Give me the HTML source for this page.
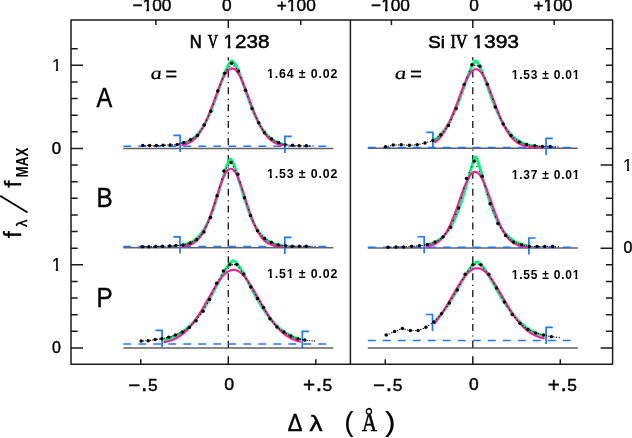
<!DOCTYPE html>
<html><head><meta charset="utf-8"><title>profiles</title>
<style>html,body{margin:0;padding:0;background:#fff;width:632px;height:438px;overflow:hidden}svg{display:block}</style>
</head><body><div style="position:absolute;left:0;top:0;width:632px;height:438px;will-change:transform">
<svg width="632" height="438" viewBox="0 0 632 438">
<rect width="632" height="438" fill="#fff"/>
<line x1="123.3" y1="148.5" x2="333.3" y2="148.5" stroke="#606060" stroke-width="1.5"/>
<line x1="123.3" y1="247.7" x2="333.3" y2="247.7" stroke="#606060" stroke-width="1.5"/>
<line x1="123.3" y1="347.9" x2="333.3" y2="347.9" stroke="#606060" stroke-width="1.5"/>
<line x1="367.8" y1="148.2" x2="577.8" y2="148.2" stroke="#606060" stroke-width="1.5"/>
<line x1="367.8" y1="247.9" x2="577.8" y2="247.9" stroke="#606060" stroke-width="1.5"/>
<line x1="367.8" y1="347.9" x2="577.8" y2="347.9" stroke="#606060" stroke-width="1.5"/>
<line x1="228.3" y1="57.3" x2="228.3" y2="348" stroke="#111" stroke-width="1.3" stroke-dasharray="7 4.5 1.2 4.2" stroke-dashoffset="3.8"/>
<line x1="472.8" y1="57.3" x2="472.8" y2="348" stroke="#111" stroke-width="1.3" stroke-dasharray="7 4.5 1.2 4.2" stroke-dashoffset="3.8"/>
<line x1="123.3" y1="146.3" x2="333.3" y2="146.3" stroke="#1c78ff" stroke-width="1.5" stroke-dasharray="7.9 7.1" stroke-linecap="butt"/>
<path d="M173.4 135.35 L180.1 135.35 L180.1 151.95" fill="none" stroke="#1c78ff" stroke-width="1.7"/>
<path d="M291.6 136.4 L284.9 136.4 L284.9 153" fill="none" stroke="#1c78ff" stroke-width="1.7"/>
<path d="M181.6 144.12 L182.24 143.94 L182.88 143.76 L183.52 143.56 L184.16 143.35 L184.8 143.13 L185.44 142.88 L186.08 142.63 L186.72 142.36 L187.36 142.07 L188 141.76 L188.64 141.43 L189.28 141.08 L189.92 140.71 L190.56 140.32 L191.2 139.9 L191.84 139.46 L192.48 139 L193.12 138.51 L193.76 137.99 L194.41 137.44 L195.05 136.87 L195.69 136.26 L196.33 135.62 L196.97 134.95 L197.61 134.25 L198.25 133.51 L198.89 132.74 L199.53 131.93 L200.17 131.08 L200.81 130.19 L201.45 129.27 L202.09 128.3 L202.73 127.3 L203.37 126.25 L204.01 125.17 L204.65 124.04 L205.29 122.87 L205.93 121.65 L206.57 120.39 L207.21 119.1 L207.85 117.76 L208.49 116.37 L209.13 114.95 L209.77 113.48 L210.41 111.98 L211.05 110.44 L211.69 108.86 L212.33 107.24 L212.97 105.59 L213.61 103.91 L214.25 102.19 L214.89 100.45 L215.53 98.69 L216.17 96.9 L216.81 95.09 L217.45 93.27 L218.09 91.44 L218.73 89.6 L219.37 87.76 L220.02 85.92 L220.66 84.08 L221.3 82.26 L221.94 80.46 L222.58 78.68 L223.22 76.93 L223.86 75.22 L224.5 73.56 L225.14 71.94 L225.78 70.39 L226.42 68.91 L227.06 67.51 L227.7 66.2 L228.34 64.99 L228.98 63.9 L229.62 62.93 L230.26 62.11 L230.9 61.46 L231.54 61.03 L232.18 60.94 L232.82 61.29 L233.46 61.87 L234.1 62.63 L234.74 63.55 L235.38 64.6 L236.02 65.77 L236.66 67.05 L237.3 68.42 L237.94 69.88 L238.58 71.4 L239.22 73 L239.86 74.64 L240.5 76.34 L241.14 78.07 L241.78 79.84 L242.42 81.64 L243.06 83.45 L243.7 85.28 L244.34 87.12 L244.98 88.97 L245.63 90.81 L246.27 92.64 L246.91 94.47 L247.55 96.28 L248.19 98.07 L248.83 99.85 L249.47 101.6 L250.11 103.32 L250.75 105.01 L251.39 106.68 L252.03 108.3 L252.67 109.9 L253.31 111.45 L253.95 112.97 L254.59 114.45 L255.23 115.89 L255.87 117.28 L256.51 118.64 L257.15 119.95 L257.79 121.22 L258.43 122.45 L259.07 123.64 L259.71 124.78 L260.35 125.88 L260.99 126.94 L261.63 127.96 L262.27 128.94 L262.91 129.88 L263.55 130.78 L264.19 131.64 L264.83 132.46 L265.47 133.25 L266.11 134 L266.75 134.72 L267.39 135.4 L268.03 136.05 L268.67 136.66 L269.31 137.25 L269.95 137.81 L270.59 138.33 L271.24 138.83 L271.88 139.31 L272.52 139.76 L273.16 140.18 L273.8 140.58 L274.44 140.96 L275.08 141.31 L275.72 141.65 L276.36 141.96 L277 142.26 L277.64 142.54 L278.28 142.8 L278.92 143.04 L279.56 143.27 L280.2 143.49 L280.84 143.69 L281.48 143.88 L282.12 144.06 L282.76 144.22 L283.4 144.38" fill="none" stroke="#00f878" stroke-width="2.9" stroke-linejoin="round"/>
<path d="M181.6 145.2 L182.24 145.08 L182.88 144.94 L183.52 144.79 L184.16 144.63 L184.8 144.44 L185.44 144.25 L186.08 144.03 L186.72 143.8 L187.36 143.55 L188 143.27 L188.64 142.97 L189.28 142.65 L189.92 142.3 L190.56 141.92 L191.2 141.52 L191.84 141.09 L192.48 140.62 L193.12 140.12 L193.76 139.58 L194.41 139.01 L195.05 138.41 L195.69 137.76 L196.33 137.07 L196.97 136.34 L197.61 135.57 L198.25 134.75 L198.89 133.89 L199.53 132.99 L200.17 132.04 L200.81 131.04 L201.45 129.99 L202.09 128.89 L202.73 127.75 L203.37 126.56 L204.01 125.32 L204.65 124.03 L205.29 122.7 L205.93 121.32 L206.57 119.9 L207.21 118.44 L207.85 116.93 L208.49 115.39 L209.13 113.81 L209.77 112.2 L210.41 110.56 L211.05 108.89 L211.69 107.19 L212.33 105.48 L212.97 103.74 L213.61 102 L214.25 100.25 L214.89 98.49 L215.53 96.74 L216.17 94.99 L216.81 93.25 L217.45 91.53 L218.09 89.84 L218.73 88.17 L219.37 86.53 L220.02 84.93 L220.66 83.38 L221.3 81.88 L221.94 80.43 L222.58 79.04 L223.22 77.72 L223.86 76.46 L224.5 75.29 L225.14 74.19 L225.78 73.17 L226.42 72.25 L227.06 71.41 L227.7 70.67 L228.34 70.03 L228.98 69.49 L229.62 69.05 L230.26 68.72 L230.9 68.49 L231.54 68.37 L232.18 68.36 L232.82 68.45 L233.46 68.65 L234.1 68.96 L234.74 69.37 L235.38 69.89 L236.02 70.5 L236.66 71.22 L237.3 72.03 L237.94 72.93 L238.58 73.93 L239.22 75 L239.86 76.16 L240.5 77.4 L241.14 78.7 L241.78 80.07 L242.42 81.51 L243.06 83 L243.7 84.54 L244.34 86.13 L244.98 87.75 L245.63 89.42 L246.27 91.11 L246.91 92.82 L247.55 94.55 L248.19 96.3 L248.83 98.05 L249.47 99.81 L250.11 101.56 L250.75 103.31 L251.39 105.04 L252.03 106.76 L252.67 108.46 L253.31 110.14 L253.95 111.79 L254.59 113.41 L255.23 115 L255.87 116.55 L256.51 118.07 L257.15 119.54 L257.79 120.97 L258.43 122.36 L259.07 123.7 L259.71 125 L260.35 126.25 L260.99 127.45 L261.63 128.61 L262.27 129.72 L262.91 130.78 L263.55 131.79 L264.19 132.75 L264.83 133.67 L265.47 134.54 L266.11 135.37 L266.75 136.15 L267.39 136.89 L268.03 137.59 L268.67 138.25 L269.31 138.87 L269.95 139.44 L270.59 139.99 L271.24 140.5 L271.88 140.97 L272.52 141.41 L273.16 141.83 L273.8 142.21 L274.44 142.56 L275.08 142.89 L275.72 143.2 L276.36 143.48 L277 143.74 L277.64 143.98 L278.28 144.2 L278.92 144.4 L279.56 144.58 L280.2 144.75 L280.84 144.9 L281.48 145.04 L282.12 145.17 L282.76 145.29 L283.4 145.39" fill="none" stroke="#ff1a9c" stroke-width="2.1" stroke-linejoin="round"/>
<line x1="123.3" y1="246.6" x2="333.3" y2="246.6" stroke="#1c78ff" stroke-width="1.5" stroke-dasharray="7.9 7.1" stroke-linecap="butt"/>
<path d="M173.3 236.97 L180 236.97 L180 253.57" fill="none" stroke="#1c78ff" stroke-width="1.7"/>
<path d="M291.5 237.43 L284.8 237.43 L284.8 254.03" fill="none" stroke="#1c78ff" stroke-width="1.7"/>
<path d="M181.5 245.21 L182.14 245.09 L182.78 244.96 L183.42 244.82 L184.06 244.68 L184.7 244.51 L185.34 244.34 L185.98 244.16 L186.62 243.96 L187.26 243.74 L187.9 243.51 L188.54 243.27 L189.18 243.01 L189.82 242.73 L190.46 242.43 L191.1 242.11 L191.74 241.76 L192.38 241.4 L193.02 241.01 L193.66 240.6 L194.31 240.15 L194.95 239.69 L195.59 239.19 L196.23 238.66 L196.87 238.1 L197.51 237.51 L198.15 236.88 L198.79 236.22 L199.43 235.52 L200.07 234.78 L200.71 234 L201.35 233.17 L201.99 232.31 L202.63 231.4 L203.27 230.44 L203.91 229.44 L204.55 228.39 L205.19 227.28 L205.83 226.13 L206.47 224.93 L207.11 223.67 L207.75 222.36 L208.39 221 L209.03 219.58 L209.67 218.11 L210.31 216.58 L210.95 215 L211.59 213.37 L212.23 211.68 L212.87 209.94 L213.51 208.15 L214.15 206.3 L214.79 204.41 L215.43 202.48 L216.07 200.5 L216.71 198.48 L217.35 196.43 L217.99 194.34 L218.63 192.23 L219.27 190.09 L219.92 187.94 L220.56 185.77 L221.2 183.6 L221.84 181.44 L222.48 179.29 L223.12 177.16 L223.76 175.06 L224.4 173 L225.04 171 L225.68 169.07 L226.32 167.22 L226.96 165.48 L227.6 163.86 L228.24 162.39 L228.88 161.09 L229.52 160.02 L230.16 159.25 L230.8 159.09 L231.44 159.74 L232.08 160.73 L232.72 161.96 L233.36 163.38 L234 164.95 L234.64 166.66 L235.28 168.48 L235.92 170.38 L236.56 172.36 L237.2 174.4 L237.84 176.49 L238.48 178.61 L239.12 180.76 L239.76 182.92 L240.4 185.09 L241.04 187.26 L241.68 189.42 L242.32 191.56 L242.96 193.68 L243.6 195.78 L244.24 197.84 L244.88 199.87 L245.53 201.86 L246.17 203.81 L246.81 205.71 L247.45 207.57 L248.09 209.38 L248.73 211.14 L249.37 212.84 L250.01 214.49 L250.65 216.09 L251.29 217.63 L251.93 219.12 L252.57 220.56 L253.21 221.94 L253.85 223.26 L254.49 224.54 L255.13 225.76 L255.77 226.93 L256.41 228.04 L257.05 229.11 L257.69 230.13 L258.33 231.1 L258.97 232.03 L259.61 232.91 L260.25 233.74 L260.89 234.53 L261.53 235.29 L262.17 236 L262.81 236.68 L263.45 237.32 L264.09 237.92 L264.73 238.49 L265.37 239.03 L266.01 239.53 L266.65 240.01 L267.29 240.46 L267.93 240.88 L268.57 241.28 L269.21 241.65 L269.85 242 L270.49 242.33 L271.14 242.63 L271.78 242.92 L272.42 243.19 L273.06 243.44 L273.7 243.67 L274.34 243.89 L274.98 244.1 L275.62 244.28 L276.26 244.46 L276.9 244.63 L277.54 244.78 L278.18 244.92 L278.82 245.05 L279.46 245.17 L280.1 245.29 L280.74 245.39 L281.38 245.49 L282.02 245.58 L282.66 245.66 L283.3 245.74" fill="none" stroke="#00f878" stroke-width="2.9" stroke-linejoin="round"/>
<path d="M181.5 246.26 L182.14 246.21 L182.78 246.15 L183.42 246.09 L184.06 246.01 L184.7 245.93 L185.34 245.83 L185.98 245.73 L186.62 245.61 L187.26 245.47 L187.9 245.33 L188.54 245.16 L189.18 244.97 L189.82 244.77 L190.46 244.54 L191.1 244.29 L191.74 244.02 L192.38 243.71 L193.02 243.38 L193.66 243.02 L194.31 242.62 L194.95 242.18 L195.59 241.71 L196.23 241.19 L196.87 240.63 L197.51 240.03 L198.15 239.38 L198.79 238.68 L199.43 237.92 L200.07 237.11 L200.71 236.25 L201.35 235.33 L201.99 234.35 L202.63 233.3 L203.27 232.2 L203.91 231.03 L204.55 229.8 L205.19 228.5 L205.83 227.15 L206.47 225.72 L207.11 224.24 L207.75 222.69 L208.39 221.08 L209.03 219.42 L209.67 217.7 L210.31 215.92 L210.95 214.1 L211.59 212.24 L212.23 210.33 L212.87 208.39 L213.51 206.42 L214.15 204.42 L214.79 202.41 L215.43 200.38 L216.07 198.36 L216.71 196.33 L217.35 194.32 L217.99 192.33 L218.63 190.37 L219.27 188.44 L219.92 186.55 L220.56 184.72 L221.2 182.96 L221.84 181.26 L222.48 179.64 L223.12 178.1 L223.76 176.66 L224.4 175.32 L225.04 174.09 L225.68 172.98 L226.32 171.98 L226.96 171.11 L227.6 170.37 L228.24 169.77 L228.88 169.3 L229.52 168.98 L230.16 168.79 L230.8 168.75 L231.44 168.86 L232.08 169.1 L232.72 169.49 L233.36 170.02 L234 170.68 L234.64 171.48 L235.28 172.4 L235.92 173.45 L236.56 174.62 L237.2 175.89 L237.84 177.28 L238.48 178.76 L239.12 180.33 L239.76 181.99 L240.4 183.72 L241.04 185.51 L241.68 187.37 L242.32 189.27 L242.96 191.22 L243.6 193.19 L244.24 195.2 L244.88 197.21 L245.53 199.24 L246.17 201.27 L246.81 203.29 L247.45 205.29 L248.09 207.28 L248.73 209.24 L249.37 211.16 L250.01 213.05 L250.65 214.9 L251.29 216.7 L251.93 218.45 L252.57 220.15 L253.21 221.79 L253.85 223.37 L254.49 224.89 L255.13 226.35 L255.77 227.75 L256.41 229.08 L257.05 230.34 L257.69 231.55 L258.33 232.69 L258.97 233.77 L259.61 234.78 L260.25 235.74 L260.89 236.63 L261.53 237.47 L262.17 238.26 L262.81 238.99 L263.45 239.67 L264.09 240.3 L264.73 240.88 L265.37 241.42 L266.01 241.92 L266.65 242.38 L267.29 242.79 L267.93 243.18 L268.57 243.53 L269.21 243.85 L269.85 244.14 L270.49 244.41 L271.14 244.65 L271.78 244.86 L272.42 245.06 L273.06 245.23 L273.7 245.39 L274.34 245.53 L274.98 245.66 L275.62 245.77 L276.26 245.87 L276.9 245.96 L277.54 246.04 L278.18 246.12 L278.82 246.18 L279.46 246.23 L280.1 246.28 L280.74 246.32 L281.38 246.36 L282.02 246.39 L282.66 246.42 L283.3 246.45" fill="none" stroke="#ff1a9c" stroke-width="2.1" stroke-linejoin="round"/>
<line x1="123.3" y1="344" x2="333.3" y2="344" stroke="#1c78ff" stroke-width="1.5" stroke-dasharray="7.9 7.1" stroke-linecap="butt"/>
<path d="M155.4 330.34 L162.1 330.34 L162.1 346.94" fill="none" stroke="#1c78ff" stroke-width="1.7"/>
<path d="M309 331.29 L302.3 331.29 L302.3 347.89" fill="none" stroke="#1c78ff" stroke-width="1.7"/>
<path d="M163.6 340.25 L164.46 340.03 L165.33 339.8 L166.19 339.55 L167.05 339.29 L167.91 339.02 L168.78 338.73 L169.64 338.43 L170.5 338.11 L171.37 337.78 L172.23 337.44 L173.09 337.07 L173.95 336.69 L174.82 336.29 L175.68 335.87 L176.54 335.44 L177.41 334.98 L178.27 334.5 L179.13 334 L179.99 333.48 L180.86 332.94 L181.72 332.37 L182.58 331.78 L183.45 331.17 L184.31 330.53 L185.17 329.86 L186.04 329.17 L186.9 328.45 L187.76 327.71 L188.62 326.93 L189.49 326.13 L190.35 325.3 L191.21 324.43 L192.08 323.54 L192.94 322.62 L193.8 321.67 L194.66 320.68 L195.53 319.67 L196.39 318.62 L197.25 317.54 L198.12 316.43 L198.98 315.28 L199.84 314.11 L200.7 312.9 L201.57 311.66 L202.43 310.39 L203.29 309.09 L204.16 307.75 L205.02 306.39 L205.88 305 L206.74 303.58 L207.61 302.14 L208.47 300.66 L209.33 299.17 L210.2 297.65 L211.06 296.11 L211.92 294.55 L212.78 292.97 L213.65 291.38 L214.51 289.77 L215.37 288.15 L216.24 286.53 L217.1 284.9 L217.96 283.28 L218.83 281.65 L219.69 280.03 L220.55 278.42 L221.41 276.83 L222.28 275.26 L223.14 273.72 L224 272.21 L224.87 270.74 L225.73 269.32 L226.59 267.95 L227.45 266.64 L228.32 265.41 L229.18 264.27 L230.04 263.23 L230.91 262.3 L231.77 261.53 L232.63 260.95 L233.49 260.73 L234.36 261.14 L235.22 261.8 L236.08 262.64 L236.95 263.61 L237.81 264.69 L238.67 265.87 L239.53 267.13 L240.4 268.46 L241.26 269.85 L242.12 271.3 L242.99 272.78 L243.85 274.31 L244.71 275.86 L245.57 277.44 L246.44 279.04 L247.3 280.65 L248.16 282.27 L249.03 283.9 L249.89 285.52 L250.75 287.15 L251.62 288.77 L252.48 290.38 L253.34 291.99 L254.2 293.57 L255.07 295.14 L255.93 296.7 L256.79 298.23 L257.66 299.74 L258.52 301.23 L259.38 302.69 L260.24 304.13 L261.11 305.53 L261.97 306.91 L262.83 308.26 L263.7 309.59 L264.56 310.88 L265.42 312.13 L266.28 313.36 L267.15 314.56 L268.01 315.72 L268.87 316.85 L269.74 317.95 L270.6 319.02 L271.46 320.06 L272.32 321.06 L273.19 322.03 L274.05 322.98 L274.91 323.89 L275.78 324.77 L276.64 325.62 L277.5 326.44 L278.36 327.23 L279.23 327.99 L280.09 328.73 L280.95 329.44 L281.82 330.12 L282.68 330.77 L283.54 331.4 L284.41 332.01 L285.27 332.59 L286.13 333.15 L286.99 333.68 L287.86 334.19 L288.72 334.69 L289.58 335.16 L290.45 335.6 L291.31 336.03 L292.17 336.45 L293.03 336.84 L293.9 337.21 L294.76 337.57 L295.62 337.91 L296.49 338.24 L297.35 338.55 L298.21 338.84 L299.07 339.12 L299.94 339.39 L300.8 339.65" fill="none" stroke="#00f878" stroke-width="2.9" stroke-linejoin="round"/>
<path d="M163.6 342.32 L164.46 342.15 L165.33 341.97 L166.19 341.78 L167.05 341.57 L167.91 341.35 L168.78 341.11 L169.64 340.85 L170.5 340.57 L171.37 340.27 L172.23 339.95 L173.09 339.6 L173.95 339.24 L174.82 338.84 L175.68 338.43 L176.54 337.98 L177.41 337.51 L178.27 337.01 L179.13 336.47 L179.99 335.91 L180.86 335.32 L181.72 334.69 L182.58 334.03 L183.45 333.33 L184.31 332.6 L185.17 331.83 L186.04 331.02 L186.9 330.18 L187.76 329.3 L188.62 328.38 L189.49 327.42 L190.35 326.43 L191.21 325.39 L192.08 324.32 L192.94 323.21 L193.8 322.07 L194.66 320.89 L195.53 319.67 L196.39 318.41 L197.25 317.13 L198.12 315.81 L198.98 314.46 L199.84 313.09 L200.7 311.68 L201.57 310.25 L202.43 308.8 L203.29 307.33 L204.16 305.84 L205.02 304.34 L205.88 302.83 L206.74 301.3 L207.61 299.77 L208.47 298.25 L209.33 296.72 L210.2 295.2 L211.06 293.68 L211.92 292.18 L212.78 290.7 L213.65 289.24 L214.51 287.8 L215.37 286.39 L216.24 285.02 L217.1 283.68 L217.96 282.38 L218.83 281.13 L219.69 279.93 L220.55 278.78 L221.41 277.68 L222.28 276.65 L223.14 275.67 L224 274.77 L224.87 273.93 L225.73 273.16 L226.59 272.47 L227.45 271.86 L228.32 271.32 L229.18 270.87 L230.04 270.5 L230.91 270.21 L231.77 270 L232.63 269.88 L233.49 269.85 L234.36 269.9 L235.22 270.04 L236.08 270.26 L236.95 270.57 L237.81 270.96 L238.67 271.43 L239.53 271.99 L240.4 272.62 L241.26 273.32 L242.12 274.11 L242.99 274.96 L243.85 275.88 L244.71 276.87 L245.57 277.91 L246.44 279.02 L247.3 280.19 L248.16 281.4 L249.03 282.66 L249.89 283.97 L250.75 285.31 L251.62 286.7 L252.48 288.11 L253.34 289.56 L254.2 291.02 L255.07 292.51 L255.93 294.01 L256.79 295.53 L257.66 297.05 L258.52 298.58 L259.38 300.11 L260.24 301.64 L261.11 303.16 L261.97 304.67 L262.83 306.17 L263.7 307.65 L264.56 309.12 L265.42 310.57 L266.28 311.99 L267.15 313.39 L268.01 314.76 L268.87 316.1 L269.74 317.41 L270.6 318.69 L271.46 319.94 L272.32 321.15 L273.19 322.32 L274.05 323.46 L274.91 324.56 L275.78 325.62 L276.64 326.65 L277.5 327.63 L278.36 328.58 L279.23 329.49 L280.09 330.37 L280.95 331.2 L281.82 332 L282.68 332.76 L283.54 333.48 L284.41 334.17 L285.27 334.83 L286.13 335.45 L286.99 336.04 L287.86 336.59 L288.72 337.12 L289.58 337.61 L290.45 338.08 L291.31 338.52 L292.17 338.93 L293.03 339.32 L293.9 339.68 L294.76 340.02 L295.62 340.34 L296.49 340.63 L297.35 340.91 L298.21 341.16 L299.07 341.4 L299.94 341.62 L300.8 341.82" fill="none" stroke="#ff1a9c" stroke-width="2.1" stroke-linejoin="round"/>
<line x1="367.8" y1="147.6" x2="577.8" y2="147.6" stroke="#1c78ff" stroke-width="1.5" stroke-dasharray="7.9 7.1" stroke-linecap="butt"/>
<path d="M426.2 132.3 L432.9 132.3 L432.9 148.9" fill="none" stroke="#1c78ff" stroke-width="1.7"/>
<path d="M552.8 138.3 L546.1 138.3 L546.1 154.9" fill="none" stroke="#1c78ff" stroke-width="1.7"/>
<path d="M434.4 139.99 L435.09 139.51 L435.79 138.99 L436.48 138.45 L437.17 137.88 L437.87 137.29 L438.56 136.66 L439.25 136 L439.94 135.3 L440.64 134.58 L441.33 133.81 L442.02 133.02 L442.72 132.18 L443.41 131.31 L444.1 130.4 L444.8 129.45 L445.49 128.46 L446.18 127.42 L446.88 126.35 L447.57 125.23 L448.26 124.07 L448.95 122.87 L449.65 121.62 L450.34 120.33 L451.03 119 L451.73 117.62 L452.42 116.19 L453.11 114.72 L453.81 113.21 L454.5 111.66 L455.19 110.06 L455.89 108.43 L456.58 106.75 L457.27 105.03 L457.96 103.28 L458.66 101.5 L459.35 99.68 L460.04 97.84 L460.74 95.96 L461.43 94.07 L462.12 92.15 L462.82 90.22 L463.51 88.28 L464.2 86.34 L464.9 84.39 L465.59 82.45 L466.28 80.52 L466.97 78.61 L467.67 76.73 L468.36 74.88 L469.05 73.08 L469.75 71.33 L470.44 69.64 L471.13 68.04 L471.83 66.52 L472.52 65.11 L473.21 63.83 L473.91 62.71 L474.6 61.77 L475.29 61.07 L475.98 60.84 L476.68 61.35 L477.37 62.16 L478.06 63.19 L478.76 64.39 L479.45 65.73 L480.14 67.19 L480.84 68.74 L481.53 70.39 L482.22 72.1 L482.92 73.88 L483.61 75.7 L484.3 77.57 L484.99 79.46 L485.69 81.38 L486.38 83.32 L487.07 85.26 L487.77 87.21 L488.46 89.15 L489.15 91.09 L489.85 93.01 L490.54 94.92 L491.23 96.8 L491.93 98.66 L492.62 100.5 L493.31 102.3 L494.01 104.07 L494.7 105.8 L495.39 107.5 L496.08 109.16 L496.78 110.78 L497.47 112.36 L498.16 113.89 L498.86 115.39 L499.55 116.83 L500.24 118.24 L500.94 119.6 L501.63 120.92 L502.32 122.19 L503.02 123.41 L503.71 124.6 L504.4 125.74 L505.09 126.84 L505.79 127.89 L506.48 128.9 L507.17 129.88 L507.87 130.81 L508.56 131.7 L509.25 132.56 L509.95 133.38 L510.64 134.16 L511.33 134.9 L512.03 135.62 L512.72 136.3 L513.41 136.94 L514.1 137.56 L514.8 138.14 L515.49 138.7 L516.18 139.23 L516.88 139.73 L517.57 140.2 L518.26 140.65 L518.96 141.08 L519.65 141.48 L520.34 141.87 L521.04 142.23 L521.73 142.57 L522.42 142.89 L523.11 143.19 L523.81 143.48 L524.5 143.75 L525.19 144 L525.89 144.24 L526.58 144.46 L527.27 144.68 L527.97 144.87 L528.66 145.06 L529.35 145.23 L530.05 145.4 L530.74 145.55 L531.43 145.69 L532.12 145.83 L532.82 145.95 L533.51 146.07 L534.2 146.18 L534.9 146.28 L535.59 146.38 L536.28 146.47 L536.98 146.55 L537.67 146.63 L538.36 146.7 L539.06 146.77 L539.75 146.83 L540.44 146.89 L541.13 146.94 L541.83 146.99 L542.52 147.04 L543.21 147.08 L543.91 147.12 L544.6 147.16" fill="none" stroke="#00f878" stroke-width="2.9" stroke-linejoin="round"/>
<path d="M434.4 142.66 L435.09 142.18 L435.79 141.67 L436.48 141.12 L437.17 140.53 L437.87 139.9 L438.56 139.23 L439.25 138.51 L439.94 137.75 L440.64 136.94 L441.33 136.08 L442.02 135.16 L442.72 134.2 L443.41 133.19 L444.1 132.12 L444.8 131 L445.49 129.82 L446.18 128.59 L446.88 127.31 L447.57 125.97 L448.26 124.58 L448.95 123.14 L449.65 121.65 L450.34 120.11 L451.03 118.52 L451.73 116.89 L452.42 115.22 L453.11 113.51 L453.81 111.76 L454.5 109.99 L455.19 108.18 L455.89 106.36 L456.58 104.51 L457.27 102.65 L457.96 100.79 L458.66 98.92 L459.35 97.05 L460.04 95.2 L460.74 93.36 L461.43 91.54 L462.12 89.75 L462.82 88 L463.51 86.28 L464.2 84.62 L464.9 83.01 L465.59 81.46 L466.28 79.97 L466.97 78.57 L467.67 77.24 L468.36 75.99 L469.05 74.83 L469.75 73.77 L470.44 72.81 L471.13 71.96 L471.83 71.21 L472.52 70.58 L473.21 70.05 L473.91 69.65 L474.6 69.36 L475.29 69.2 L475.98 69.15 L476.68 69.23 L477.37 69.42 L478.06 69.74 L478.76 70.17 L479.45 70.72 L480.14 71.38 L480.84 72.16 L481.53 73.04 L482.22 74.03 L482.92 75.11 L483.61 76.29 L484.3 77.55 L484.99 78.9 L485.69 80.33 L486.38 81.83 L487.07 83.4 L487.77 85.02 L488.46 86.7 L489.15 88.42 L489.85 90.19 L490.54 91.98 L491.23 93.81 L491.93 95.65 L492.62 97.51 L493.31 99.38 L494.01 101.24 L494.7 103.11 L495.39 104.96 L496.08 106.8 L496.78 108.63 L497.47 110.42 L498.16 112.19 L498.86 113.93 L499.55 115.63 L500.24 117.29 L500.94 118.91 L501.63 120.49 L502.32 122.02 L503.02 123.5 L503.71 124.92 L504.4 126.3 L505.09 127.62 L505.79 128.9 L506.48 130.11 L507.17 131.28 L507.87 132.38 L508.56 133.44 L509.25 134.44 L509.95 135.39 L510.64 136.29 L511.33 137.14 L512.03 137.94 L512.72 138.69 L513.41 139.4 L514.1 140.06 L514.8 140.68 L515.49 141.26 L516.18 141.8 L516.88 142.3 L517.57 142.77 L518.26 143.2 L518.96 143.6 L519.65 143.97 L520.34 144.31 L521.04 144.62 L521.73 144.9 L522.42 145.17 L523.11 145.41 L523.81 145.63 L524.5 145.83 L525.19 146.01 L525.89 146.18 L526.58 146.33 L527.27 146.47 L527.97 146.59 L528.66 146.7 L529.35 146.8 L530.05 146.89 L530.74 146.97 L531.43 147.04 L532.12 147.11 L532.82 147.17 L533.51 147.22 L534.2 147.26 L534.9 147.31 L535.59 147.34 L536.28 147.37 L536.98 147.4 L537.67 147.43 L538.36 147.45 L539.06 147.47 L539.75 147.49 L540.44 147.5 L541.13 147.52 L541.83 147.53 L542.52 147.54 L543.21 147.55 L543.91 147.55 L544.6 147.56" fill="none" stroke="#ff1a9c" stroke-width="2.1" stroke-linejoin="round"/>
<line x1="367.8" y1="247.2" x2="577.8" y2="247.2" stroke="#1c78ff" stroke-width="1.5" stroke-dasharray="7.9 7.1" stroke-linecap="butt"/>
<path d="M417.5 236.76 L424.2 236.76 L424.2 253.37" fill="none" stroke="#1c78ff" stroke-width="1.7"/>
<path d="M535.6 238.02 L528.9 238.02 L528.9 254.62" fill="none" stroke="#1c78ff" stroke-width="1.7"/>
<path d="M425.7 245.24 L426.34 245.11 L426.98 244.96 L427.62 244.81 L428.26 244.65 L428.9 244.47 L429.54 244.29 L430.18 244.09 L430.82 243.88 L431.46 243.66 L432.1 243.43 L432.74 243.18 L433.38 242.91 L434.02 242.63 L434.65 242.34 L435.29 242.03 L435.93 241.69 L436.57 241.34 L437.21 240.97 L437.85 240.58 L438.49 240.17 L439.13 239.73 L439.77 239.27 L440.41 238.79 L441.05 238.28 L441.69 237.74 L442.33 237.17 L442.97 236.58 L443.61 235.95 L444.25 235.29 L444.89 234.6 L445.53 233.88 L446.17 233.11 L446.81 232.31 L447.45 231.48 L448.09 230.6 L448.73 229.68 L449.37 228.72 L450.01 227.72 L450.65 226.68 L451.28 225.58 L451.92 224.44 L452.56 223.26 L453.2 222.02 L453.84 220.74 L454.48 219.4 L455.12 218.01 L455.76 216.57 L456.4 215.08 L457.04 213.54 L457.68 211.94 L458.32 210.29 L458.96 208.58 L459.6 206.82 L460.24 205.01 L460.88 203.15 L461.52 201.24 L462.16 199.27 L462.8 197.26 L463.44 195.21 L464.08 193.11 L464.72 190.98 L465.36 188.8 L466 186.6 L466.64 184.37 L467.28 182.12 L467.92 179.85 L468.55 177.58 L469.19 175.31 L469.83 173.06 L470.47 170.83 L471.11 168.63 L471.75 166.49 L472.39 164.43 L473.03 162.47 L473.67 160.64 L474.31 158.99 L474.95 157.6 L475.59 156.7 L476.23 157.57 L476.87 158.94 L477.51 160.58 L478.15 162.41 L478.79 164.37 L479.43 166.43 L480.07 168.57 L480.71 170.76 L481.35 172.99 L481.99 175.25 L482.63 177.52 L483.27 179.79 L483.91 182.05 L484.55 184.3 L485.18 186.53 L485.82 188.74 L486.46 190.91 L487.1 193.05 L487.74 195.15 L488.38 197.2 L489.02 199.21 L489.66 201.18 L490.3 203.09 L490.94 204.96 L491.58 206.77 L492.22 208.53 L492.86 210.24 L493.5 211.89 L494.14 213.49 L494.78 215.04 L495.42 216.53 L496.06 217.97 L496.7 219.36 L497.34 220.7 L497.98 221.98 L498.62 223.22 L499.26 224.41 L499.9 225.55 L500.54 226.64 L501.18 227.69 L501.82 228.7 L502.45 229.66 L503.09 230.57 L503.73 231.45 L504.37 232.29 L505.01 233.09 L505.65 233.85 L506.29 234.58 L506.93 235.27 L507.57 235.93 L508.21 236.56 L508.85 237.16 L509.49 237.72 L510.13 238.26 L510.77 238.78 L511.41 239.26 L512.05 239.72 L512.69 240.16 L513.33 240.57 L513.97 240.96 L514.61 241.33 L515.25 241.68 L515.89 242.02 L516.53 242.33 L517.17 242.63 L517.81 242.91 L518.45 243.17 L519.08 243.42 L519.72 243.65 L520.36 243.88 L521 244.08 L521.64 244.28 L522.28 244.47 L522.92 244.64 L523.56 244.8 L524.2 244.96 L524.84 245.1 L525.48 245.24 L526.12 245.37 L526.76 245.49 L527.4 245.6" fill="none" stroke="#00f878" stroke-width="2.9" stroke-linejoin="round"/>
<path d="M425.7 246.56 L426.34 246.47 L426.98 246.38 L427.62 246.28 L428.26 246.16 L428.9 246.03 L429.54 245.89 L430.18 245.74 L430.82 245.56 L431.46 245.37 L432.1 245.16 L432.74 244.94 L433.38 244.68 L434.02 244.41 L434.65 244.11 L435.29 243.79 L435.93 243.43 L436.57 243.05 L437.21 242.63 L437.85 242.18 L438.49 241.7 L439.13 241.17 L439.77 240.61 L440.41 240.01 L441.05 239.37 L441.69 238.68 L442.33 237.94 L442.97 237.16 L443.61 236.33 L444.25 235.45 L444.89 234.52 L445.53 233.54 L446.17 232.5 L446.81 231.41 L447.45 230.27 L448.09 229.07 L448.73 227.82 L449.37 226.52 L450.01 225.16 L450.65 223.75 L451.28 222.29 L451.92 220.79 L452.56 219.24 L453.2 217.64 L453.84 216 L454.48 214.33 L455.12 212.62 L455.76 210.88 L456.4 209.11 L457.04 207.32 L457.68 205.51 L458.32 203.69 L458.96 201.87 L459.6 200.04 L460.24 198.22 L460.88 196.4 L461.52 194.61 L462.16 192.84 L462.8 191.09 L463.44 189.39 L464.08 187.73 L464.72 186.12 L465.36 184.56 L466 183.07 L466.64 181.65 L467.28 180.3 L467.92 179.03 L468.55 177.85 L469.19 176.77 L469.83 175.78 L470.47 174.89 L471.11 174.1 L471.75 173.43 L472.39 172.87 L473.03 172.43 L473.67 172.1 L474.31 171.89 L474.95 171.8 L475.59 171.84 L476.23 171.99 L476.87 172.26 L477.51 172.65 L478.15 173.16 L478.79 173.78 L479.43 174.51 L480.07 175.35 L480.71 176.29 L481.35 177.33 L481.99 178.47 L482.63 179.7 L483.27 181.01 L483.91 182.4 L484.55 183.86 L485.18 185.38 L485.82 186.97 L486.46 188.61 L487.1 190.3 L487.74 192.02 L488.38 193.78 L489.02 195.56 L489.66 197.37 L490.3 199.19 L490.94 201.01 L491.58 202.84 L492.22 204.67 L492.86 206.48 L493.5 208.28 L494.14 210.06 L494.78 211.81 L495.42 213.54 L496.06 215.23 L496.7 216.88 L497.34 218.5 L497.98 220.07 L498.62 221.6 L499.26 223.08 L499.9 224.51 L500.54 225.89 L501.18 227.22 L501.82 228.49 L502.45 229.72 L503.09 230.88 L503.73 232 L504.37 233.06 L505.01 234.07 L505.65 235.02 L506.29 235.93 L506.93 236.78 L507.57 237.58 L508.21 238.34 L508.85 239.05 L509.49 239.72 L510.13 240.34 L510.77 240.92 L511.41 241.46 L512.05 241.96 L512.69 242.43 L513.33 242.86 L513.97 243.26 L514.61 243.62 L515.25 243.96 L515.89 244.27 L516.53 244.56 L517.17 244.82 L517.81 245.06 L518.45 245.28 L519.08 245.48 L519.72 245.66 L520.36 245.82 L521 245.97 L521.64 246.1 L522.28 246.22 L522.92 246.33 L523.56 246.43 L524.2 246.52 L524.84 246.6 L525.48 246.67 L526.12 246.73 L526.76 246.79 L527.4 246.84" fill="none" stroke="#ff1a9c" stroke-width="2.1" stroke-linejoin="round"/>
<line x1="367.8" y1="340.6" x2="577.8" y2="340.6" stroke="#1c78ff" stroke-width="1.5" stroke-dasharray="7.9 7.1" stroke-linecap="butt"/>
<path d="M425.8 314.49 L432.5 314.49 L432.5 331.09" fill="none" stroke="#1c78ff" stroke-width="1.7"/>
<path d="M552.8 327.33 L546.1 327.33 L546.1 343.93" fill="none" stroke="#1c78ff" stroke-width="1.7"/>
<path d="M434 322.1 L434.7 321.42 L435.39 320.72 L436.09 320.01 L436.78 319.27 L437.48 318.51 L438.17 317.74 L438.87 316.94 L439.56 316.13 L440.26 315.3 L440.96 314.45 L441.65 313.58 L442.35 312.69 L443.04 311.78 L443.74 310.85 L444.43 309.9 L445.13 308.94 L445.83 307.95 L446.52 306.95 L447.22 305.93 L447.91 304.89 L448.61 303.84 L449.3 302.77 L450 301.68 L450.69 300.58 L451.39 299.47 L452.09 298.34 L452.78 297.2 L453.48 296.04 L454.17 294.87 L454.87 293.7 L455.56 292.51 L456.26 291.32 L456.95 290.12 L457.65 288.91 L458.35 287.7 L459.04 286.48 L459.74 285.27 L460.43 284.05 L461.13 282.84 L461.82 281.63 L462.52 280.42 L463.22 279.23 L463.91 278.04 L464.61 276.87 L465.3 275.71 L466 274.56 L466.69 273.44 L467.39 272.34 L468.08 271.27 L468.78 270.22 L469.48 269.21 L470.17 268.23 L470.87 267.3 L471.56 266.41 L472.26 265.57 L472.95 264.79 L473.65 264.07 L474.34 263.42 L475.04 262.86 L475.74 262.39 L476.43 262.05 L477.13 261.91 L477.82 262.14 L478.52 262.52 L479.21 263.02 L479.91 263.61 L480.61 264.28 L481.3 265.02 L482 265.82 L482.69 266.68 L483.39 267.58 L484.08 268.53 L484.78 269.52 L485.47 270.54 L486.17 271.59 L486.87 272.68 L487.56 273.78 L488.26 274.91 L488.95 276.06 L489.65 277.23 L490.34 278.4 L491.04 279.59 L491.73 280.79 L492.43 282 L493.13 283.21 L493.82 284.43 L494.52 285.64 L495.21 286.86 L495.91 288.07 L496.6 289.28 L497.3 290.49 L497.99 291.69 L498.69 292.88 L499.39 294.06 L500.08 295.23 L500.78 296.4 L501.47 297.55 L502.17 298.69 L502.86 299.81 L503.56 300.92 L504.26 302.02 L504.95 303.1 L505.65 304.17 L506.34 305.22 L507.04 306.25 L507.73 307.26 L508.43 308.26 L509.12 309.24 L509.82 310.19 L510.52 311.14 L511.21 312.06 L511.91 312.96 L512.6 313.85 L513.3 314.71 L513.99 315.56 L514.69 316.38 L515.38 317.19 L516.08 317.98 L516.78 318.75 L517.47 319.5 L518.17 320.23 L518.86 320.94 L519.56 321.63 L520.25 322.31 L520.95 322.97 L521.65 323.6 L522.34 324.22 L523.04 324.83 L523.73 325.41 L524.43 325.98 L525.12 326.53 L525.82 327.07 L526.51 327.58 L527.21 328.09 L527.91 328.57 L528.6 329.04 L529.3 329.5 L529.99 329.94 L530.69 330.37 L531.38 330.78 L532.08 331.18 L532.77 331.56 L533.47 331.93 L534.17 332.29 L534.86 332.64 L535.56 332.97 L536.25 333.3 L536.95 333.61 L537.64 333.9 L538.34 334.19 L539.04 334.47 L539.73 334.74 L540.43 334.99 L541.12 335.24 L541.82 335.48 L542.51 335.71 L543.21 335.93 L543.9 336.14 L544.6 336.34" fill="none" stroke="#00f878" stroke-width="2.9" stroke-linejoin="round"/>
<path d="M434 323.86 L434.7 323.05 L435.39 322.22 L436.09 321.37 L436.78 320.5 L437.48 319.6 L438.17 318.67 L438.87 317.73 L439.56 316.76 L440.26 315.76 L440.96 314.75 L441.65 313.72 L442.35 312.66 L443.04 311.59 L443.74 310.5 L444.43 309.39 L445.13 308.26 L445.83 307.12 L446.52 305.97 L447.22 304.8 L447.91 303.62 L448.61 302.43 L449.3 301.24 L450 300.03 L450.69 298.83 L451.39 297.62 L452.09 296.4 L452.78 295.19 L453.48 293.98 L454.17 292.78 L454.87 291.58 L455.56 290.39 L456.26 289.2 L456.95 288.04 L457.65 286.88 L458.35 285.74 L459.04 284.62 L459.74 283.53 L460.43 282.45 L461.13 281.4 L461.82 280.37 L462.52 279.38 L463.22 278.41 L463.91 277.48 L464.61 276.59 L465.3 275.73 L466 274.9 L466.69 274.12 L467.39 273.38 L468.08 272.69 L468.78 272.04 L469.48 271.43 L470.17 270.87 L470.87 270.37 L471.56 269.91 L472.26 269.5 L472.95 269.15 L473.65 268.85 L474.34 268.6 L475.04 268.4 L475.74 268.26 L476.43 268.18 L477.13 268.15 L477.82 268.18 L478.52 268.26 L479.21 268.39 L479.91 268.58 L480.61 268.83 L481.3 269.13 L482 269.48 L482.69 269.88 L483.39 270.33 L484.08 270.84 L484.78 271.39 L485.47 271.99 L486.17 272.64 L486.87 273.34 L487.56 274.07 L488.26 274.85 L488.95 275.67 L489.65 276.53 L490.34 277.42 L491.04 278.35 L491.73 279.31 L492.43 280.31 L493.13 281.33 L493.82 282.38 L494.52 283.45 L495.21 284.55 L495.91 285.67 L496.6 286.81 L497.3 287.96 L497.99 289.13 L498.69 290.31 L499.39 291.5 L500.08 292.7 L500.78 293.9 L501.47 295.11 L502.17 296.32 L502.86 297.54 L503.56 298.75 L504.26 299.95 L504.95 301.16 L505.65 302.35 L506.34 303.54 L507.04 304.72 L507.73 305.89 L508.43 307.05 L509.12 308.19 L509.82 309.31 L510.52 310.42 L511.21 311.52 L511.91 312.59 L512.6 313.65 L513.3 314.68 L513.99 315.7 L514.69 316.69 L515.38 317.66 L516.08 318.61 L516.78 319.54 L517.47 320.44 L518.17 321.32 L518.86 322.17 L519.56 323 L520.25 323.8 L520.95 324.58 L521.65 325.34 L522.34 326.07 L523.04 326.78 L523.73 327.46 L524.43 328.12 L525.12 328.75 L525.82 329.36 L526.51 329.95 L527.21 330.51 L527.91 331.05 L528.6 331.57 L529.3 332.07 L529.99 332.55 L530.69 333 L531.38 333.44 L532.08 333.85 L532.77 334.25 L533.47 334.63 L534.17 334.99 L534.86 335.33 L535.56 335.65 L536.25 335.96 L536.95 336.25 L537.64 336.53 L538.34 336.79 L539.04 337.04 L539.73 337.27 L540.43 337.5 L541.12 337.7 L541.82 337.9 L542.51 338.09 L543.21 338.26 L543.9 338.42 L544.6 338.58" fill="none" stroke="#ff1a9c" stroke-width="2.1" stroke-linejoin="round"/>
<g fill="#000"><circle cx="145.18" cy="145.6" r="0.65"/><circle cx="147.36" cy="145.6" r="0.65"/><circle cx="151.94" cy="145.6" r="0.65"/><circle cx="154.09" cy="145.6" r="0.65"/><circle cx="158.68" cy="145.5" r="0.65"/><circle cx="160.86" cy="145.4" r="0.65"/><circle cx="165.55" cy="145.19" r="0.65"/><circle cx="167.79" cy="145.1" r="0.65"/><circle cx="172.58" cy="144.82" r="0.65"/><circle cx="174.86" cy="144.66" r="0.65"/><circle cx="179.47" cy="143.84" r="0.65"/><circle cx="181.55" cy="143.23" r="0.65"/><circle cx="186.08" cy="141.58" r="0.65"/><circle cx="188.26" cy="140.66" r="0.65"/><circle cx="192.95" cy="138.26" r="0.65"/><circle cx="195.19" cy="136.95" r="0.65"/><circle cx="199.84" cy="131.92" r="0.65"/><circle cx="201.99" cy="128.56" r="0.65"/><circle cx="206.51" cy="120.27" r="0.65"/><circle cx="208.62" cy="115.85" r="0.65"/><circle cx="213.25" cy="104.19" r="0.65"/><circle cx="215.49" cy="97.7" r="0.65"/><circle cx="220.22" cy="84.77" r="0.65"/><circle cx="222.42" cy="79.07" r="0.65"/><circle cx="227.11" cy="69.73" r="0.65"/><circle cx="229.32" cy="66.57" r="0.65"/><circle cx="234.01" cy="65.96" r="0.65"/><circle cx="236.22" cy="68.39" r="0.65"/><circle cx="240.95" cy="77.66" r="0.65"/><circle cx="243.19" cy="83.83" r="0.65"/><circle cx="247.78" cy="96.64" r="0.65"/><circle cx="249.85" cy="102.53" r="0.65"/><circle cx="254.34" cy="113.53" r="0.65"/><circle cx="256.49" cy="118.05" r="0.65"/><circle cx="260.69" cy="126.2" r="0.65"/><circle cx="262.52" cy="129.4" r="0.65"/><circle cx="266.88" cy="134.8" r="0.65"/><circle cx="269.16" cy="136.72" r="0.65"/><circle cx="273.95" cy="140.06" r="0.65"/><circle cx="276.19" cy="141.31" r="0.65"/><circle cx="280.84" cy="143.37" r="0.65"/><circle cx="282.99" cy="144.07" r="0.65"/><circle cx="287.75" cy="144.94" r="0.65"/><circle cx="290.09" cy="145.07" r="0.65"/><circle cx="294.84" cy="145.41" r="0.65"/><circle cx="296.99" cy="145.6" r="0.65"/><circle cx="301.69" cy="145.8" r="0.65"/><circle cx="303.96" cy="145.8" r="0.65"/><circle cx="309.65" cy="145.9" r="0.65"/><circle cx="313" cy="146" r="0.65"/><circle cx="142.8" cy="145.6" r="1.75"/><circle cx="149.6" cy="145.6" r="1.75"/><circle cx="156.3" cy="145.6" r="1.75"/><circle cx="163.1" cy="145.3" r="1.75"/><circle cx="170.1" cy="145" r="1.75"/><circle cx="177.2" cy="144.5" r="1.75"/><circle cx="183.7" cy="142.6" r="1.75"/><circle cx="190.5" cy="139.7" r="1.75"/><circle cx="197.5" cy="135.6" r="1.75"/><circle cx="204.2" cy="125.1" r="1.75"/><circle cx="210.8" cy="111.3" r="1.75"/><circle cx="217.8" cy="91" r="1.75"/><circle cx="224.7" cy="73.2" r="1.75"/><circle cx="231.6" cy="63.3" r="1.75"/><circle cx="238.5" cy="70.9" r="1.75"/><circle cx="245.5" cy="90.2" r="1.75"/><circle cx="252" cy="108.6" r="1.75"/><circle cx="258.7" cy="122.7" r="1.75"/><circle cx="264.4" cy="132.7" r="1.75"/><circle cx="271.5" cy="138.7" r="1.75"/><circle cx="278.5" cy="142.6" r="1.75"/><circle cx="285.2" cy="144.8" r="1.75"/><circle cx="292.5" cy="145.2" r="1.75"/><circle cx="299.2" cy="145.8" r="1.75"/><circle cx="306.3" cy="145.8" r="1.75"/></g>
<g fill="#000"><circle cx="144.61" cy="246.7" r="0.65"/><circle cx="146.72" cy="246.7" r="0.65"/><circle cx="151.28" cy="246.63" r="0.65"/><circle cx="153.46" cy="246.57" r="0.65"/><circle cx="158.11" cy="246.43" r="0.65"/><circle cx="160.32" cy="246.37" r="0.65"/><circle cx="165.05" cy="246.19" r="0.65"/><circle cx="167.29" cy="246.1" r="0.65"/><circle cx="171.84" cy="245.82" r="0.65"/><circle cx="173.89" cy="245.66" r="0.65"/><circle cx="178.45" cy="245.36" r="0.65"/><circle cx="180.69" cy="245.23" r="0.65"/><circle cx="185.45" cy="244.33" r="0.65"/><circle cx="187.69" cy="243.63" r="0.65"/><circle cx="192.31" cy="241.68" r="0.65"/><circle cx="194.42" cy="240.56" r="0.65"/><circle cx="199.16" cy="236.78" r="0.65"/><circle cx="201.49" cy="234.38" r="0.65"/><circle cx="206.21" cy="226.9" r="0.65"/><circle cx="208.32" cy="222.32" r="0.65"/><circle cx="212.81" cy="209.97" r="0.65"/><circle cx="214.92" cy="202.99" r="0.65"/><circle cx="219.48" cy="187.16" r="0.65"/><circle cx="221.66" cy="179.25" r="0.65"/><circle cx="226.38" cy="168.09" r="0.65"/><circle cx="228.66" cy="165.34" r="0.65"/><circle cx="233.41" cy="166.63" r="0.65"/><circle cx="235.62" cy="170.41" r="0.65"/><circle cx="240.21" cy="182.49" r="0.65"/><circle cx="242.32" cy="189.98" r="0.65"/><circle cx="246.6" cy="203.93" r="0.65"/><circle cx="248.52" cy="209.63" r="0.65"/><circle cx="252.95" cy="220.82" r="0.65"/><circle cx="255.19" cy="225.68" r="0.65"/><circle cx="259.95" cy="233.43" r="0.65"/><circle cx="262.19" cy="235.93" r="0.65"/><circle cx="266.91" cy="239.83" r="0.65"/><circle cx="269.12" cy="241.05" r="0.65"/><circle cx="273.85" cy="243.25" r="0.65"/><circle cx="276.09" cy="244.11" r="0.65"/><circle cx="280.85" cy="245.28" r="0.65"/><circle cx="283.09" cy="245.54" r="0.65"/><circle cx="287.81" cy="245.94" r="0.65"/><circle cx="290.02" cy="246.07" r="0.65"/><circle cx="294.75" cy="246.2" r="0.65"/><circle cx="296.99" cy="246.2" r="0.65"/><circle cx="301.72" cy="246.23" r="0.65"/><circle cx="303.92" cy="246.27" r="0.65"/><circle cx="309.13" cy="246.33" r="0.65"/><circle cx="312.07" cy="246.37" r="0.65"/><circle cx="315" cy="246.4" r="0.65"/><circle cx="142.3" cy="246.7" r="1.75"/><circle cx="148.9" cy="246.7" r="1.75"/><circle cx="155.7" cy="246.5" r="1.75"/><circle cx="162.6" cy="246.3" r="1.75"/><circle cx="169.6" cy="246" r="1.75"/><circle cx="176" cy="245.5" r="1.75"/><circle cx="183" cy="245.1" r="1.75"/><circle cx="190" cy="242.9" r="1.75"/><circle cx="196.6" cy="239.4" r="1.75"/><circle cx="203.9" cy="231.9" r="1.75"/><circle cx="210.5" cy="217.6" r="1.75"/><circle cx="217.1" cy="195.8" r="1.75"/><circle cx="223.9" cy="171.1" r="1.75"/><circle cx="231" cy="162.5" r="1.75"/><circle cx="237.9" cy="174.3" r="1.75"/><circle cx="244.5" cy="197.7" r="1.75"/><circle cx="250.5" cy="215.5" r="1.75"/><circle cx="257.5" cy="230.7" r="1.75"/><circle cx="264.5" cy="238.5" r="1.75"/><circle cx="271.4" cy="242.3" r="1.75"/><circle cx="278.4" cy="245" r="1.75"/><circle cx="285.4" cy="245.8" r="1.75"/><circle cx="292.3" cy="246.2" r="1.75"/><circle cx="299.3" cy="246.2" r="1.75"/><circle cx="306.2" cy="246.3" r="1.75"/></g>
<g fill="#000"><circle cx="143.65" cy="340.93" r="0.65"/><circle cx="145.89" cy="340.87" r="0.65"/><circle cx="150.65" cy="340.38" r="0.65"/><circle cx="152.89" cy="340" r="0.65"/><circle cx="157.51" cy="339.29" r="0.65"/><circle cx="159.62" cy="339" r="0.65"/><circle cx="164.22" cy="338.21" r="0.65"/><circle cx="166.42" cy="337.76" r="0.65"/><circle cx="171.04" cy="336.46" r="0.65"/><circle cx="173.19" cy="335.69" r="0.65"/><circle cx="177.81" cy="333.92" r="0.65"/><circle cx="180.02" cy="333.02" r="0.65"/><circle cx="184.75" cy="330.45" r="0.65"/><circle cx="186.99" cy="328.95" r="0.65"/><circle cx="191.68" cy="325.09" r="0.65"/><circle cx="193.86" cy="322.98" r="0.65"/><circle cx="198.51" cy="317.44" r="0.65"/><circle cx="200.72" cy="314.37" r="0.65"/><circle cx="205.31" cy="307.11" r="0.65"/><circle cx="207.42" cy="303.36" r="0.65"/><circle cx="212.05" cy="293.83" r="0.65"/><circle cx="214.29" cy="288.65" r="0.65"/><circle cx="218.98" cy="279.03" r="0.65"/><circle cx="221.16" cy="275.13" r="0.65"/><circle cx="225.68" cy="268.9" r="0.65"/><circle cx="227.75" cy="266.88" r="0.65"/><circle cx="232.31" cy="264.73" r="0.65"/><circle cx="234.52" cy="264.67" r="0.65"/><circle cx="239.22" cy="267.89" r="0.65"/><circle cx="241.42" cy="270.9" r="0.65"/><circle cx="246.19" cy="278.59" r="0.65"/><circle cx="248.46" cy="282.78" r="0.65"/><circle cx="253.15" cy="291.12" r="0.65"/><circle cx="255.29" cy="294.81" r="0.65"/><circle cx="259.6" cy="301.68" r="0.65"/><circle cx="261.52" cy="304.5" r="0.65"/><circle cx="265.74" cy="311.35" r="0.65"/><circle cx="267.79" cy="314.97" r="0.65"/><circle cx="272.35" cy="321.57" r="0.65"/><circle cx="274.59" cy="324.19" r="0.65"/><circle cx="279.35" cy="328.72" r="0.65"/><circle cx="281.59" cy="330.38" r="0.65"/><circle cx="286.31" cy="333.5" r="0.65"/><circle cx="288.52" cy="334.78" r="0.65"/><circle cx="293.32" cy="337.01" r="0.65"/><circle cx="295.62" cy="337.84" r="0.65"/><circle cx="300.38" cy="339.19" r="0.65"/><circle cx="302.56" cy="339.64" r="0.65"/><circle cx="307.23" cy="340.33" r="0.65"/><circle cx="309.65" cy="340.55" r="0.65"/><circle cx="312.07" cy="340.77" r="0.65"/><circle cx="314.5" cy="341" r="0.65"/><circle cx="141.2" cy="341" r="1.75"/><circle cx="148.2" cy="340.8" r="1.75"/><circle cx="155.2" cy="339.6" r="1.75"/><circle cx="161.8" cy="338.7" r="1.75"/><circle cx="168.7" cy="337.3" r="1.75"/><circle cx="175.4" cy="334.9" r="1.75"/><circle cx="182.3" cy="332.1" r="1.75"/><circle cx="189.3" cy="327.4" r="1.75"/><circle cx="196.1" cy="320.8" r="1.75"/><circle cx="203" cy="311.2" r="1.75"/><circle cx="209.6" cy="299.5" r="1.75"/><circle cx="216.6" cy="283.3" r="1.75"/><circle cx="223.4" cy="271.1" r="1.75"/><circle cx="229.9" cy="264.8" r="1.75"/><circle cx="236.8" cy="264.6" r="1.75"/><circle cx="243.7" cy="274" r="1.75"/><circle cx="250.8" cy="287.1" r="1.75"/><circle cx="257.5" cy="298.6" r="1.75"/><circle cx="263.5" cy="307.4" r="1.75"/><circle cx="269.9" cy="318.7" r="1.75"/><circle cx="276.9" cy="326.9" r="1.75"/><circle cx="283.9" cy="332.1" r="1.75"/><circle cx="290.8" cy="336.1" r="1.75"/><circle cx="298" cy="338.7" r="1.75"/><circle cx="304.8" cy="340.1" r="1.75"/></g>
<g fill="#000"><circle cx="388.19" cy="146.14" r="0.65"/><circle cx="390.66" cy="145.63" r="0.65"/><circle cx="396" cy="145" r="0.65"/><circle cx="398.56" cy="144.9" r="0.65"/><circle cx="404.07" cy="144.98" r="0.65"/><circle cx="406.69" cy="145.14" r="0.65"/><circle cx="412.13" cy="145.12" r="0.65"/><circle cx="414.63" cy="144.97" r="0.65"/><circle cx="419.93" cy="144.14" r="0.65"/><circle cx="422.43" cy="143.53" r="0.65"/><circle cx="427.76" cy="142.09" r="0.65"/><circle cx="430.29" cy="141.36" r="0.65"/><circle cx="435.63" cy="138.53" r="0.65"/><circle cx="438.13" cy="136.65" r="0.65"/><circle cx="443.39" cy="131.44" r="0.65"/><circle cx="445.86" cy="128.47" r="0.65"/><circle cx="451.13" cy="119.48" r="0.65"/><circle cx="453.63" cy="114.08" r="0.65"/><circle cx="458.96" cy="100.06" r="0.65"/><circle cx="461.49" cy="92.35" r="0.65"/><circle cx="466.83" cy="77.51" r="0.65"/><circle cx="469.33" cy="71.2" r="0.65"/><circle cx="474.7" cy="65.26" r="0.65"/><circle cx="477.26" cy="65.77" r="0.65"/><circle cx="482.52" cy="72.6" r="0.65"/><circle cx="484.92" cy="78.36" r="0.65"/><circle cx="490.16" cy="92.21" r="0.65"/><circle cx="492.69" cy="99.44" r="0.65"/><circle cx="498.06" cy="112.85" r="0.65"/><circle cx="500.59" cy="118.29" r="0.65"/><circle cx="505.93" cy="128" r="0.65"/><circle cx="508.43" cy="131.74" r="0.65"/><circle cx="513.87" cy="137.81" r="0.65"/><circle cx="516.49" cy="139.82" r="0.65"/><circle cx="521.79" cy="142.81" r="0.65"/><circle cx="524.16" cy="143.64" r="0.65"/><circle cx="529.47" cy="144.92" r="0.65"/><circle cx="532.09" cy="145.3" r="0.65"/><circle cx="537.42" cy="146.01" r="0.65"/><circle cx="539.82" cy="146.3" r="0.65"/><circle cx="545.03" cy="146.6" r="0.65"/><circle cx="547.53" cy="146.6" r="0.65"/><circle cx="552.73" cy="146.67" r="0.65"/><circle cx="555.37" cy="146.73" r="0.65"/><circle cx="558" cy="146.8" r="0.65"/><circle cx="385.5" cy="146.7" r="1.75"/><circle cx="393.2" cy="145.1" r="1.75"/><circle cx="401.2" cy="144.8" r="1.75"/><circle cx="409.4" cy="145.3" r="1.75"/><circle cx="417.2" cy="144.8" r="1.75"/><circle cx="425" cy="142.9" r="1.75"/><circle cx="432.9" cy="140.6" r="1.75"/><circle cx="440.7" cy="134.7" r="1.75"/><circle cx="448.4" cy="125.4" r="1.75"/><circle cx="456.2" cy="108.5" r="1.75"/><circle cx="464.1" cy="84.4" r="1.75"/><circle cx="471.9" cy="64.7" r="1.75"/><circle cx="479.9" cy="66.3" r="1.75"/><circle cx="487.4" cy="84.3" r="1.75"/><circle cx="495.3" cy="106.9" r="1.75"/><circle cx="503.2" cy="123.9" r="1.75"/><circle cx="511" cy="135.6" r="1.75"/><circle cx="519.2" cy="141.9" r="1.75"/><circle cx="526.6" cy="144.5" r="1.75"/><circle cx="534.8" cy="145.7" r="1.75"/><circle cx="542.3" cy="146.6" r="1.75"/><circle cx="550.1" cy="146.6" r="1.75"/></g>
<g fill="#000"><circle cx="390.8" cy="247.13" r="0.65"/><circle cx="393.36" cy="247.07" r="0.65"/><circle cx="398.66" cy="247" r="0.65"/><circle cx="401.09" cy="247" r="0.65"/><circle cx="406.4" cy="246.75" r="0.65"/><circle cx="408.96" cy="246.53" r="0.65"/><circle cx="414.3" cy="246.12" r="0.65"/><circle cx="416.76" cy="245.97" r="0.65"/><circle cx="422.1" cy="245.38" r="0.65"/><circle cx="424.66" cy="245" r="0.65"/><circle cx="430" cy="243.69" r="0.65"/><circle cx="432.46" cy="242.86" r="0.65"/><circle cx="437.8" cy="240.28" r="0.65"/><circle cx="440.36" cy="238.72" r="0.65"/><circle cx="445.66" cy="233.63" r="0.65"/><circle cx="448.09" cy="230.47" r="0.65"/><circle cx="453.4" cy="220.51" r="0.65"/><circle cx="455.96" cy="214.4" r="0.65"/><circle cx="461.37" cy="197.74" r="0.65"/><circle cx="463.89" cy="188.27" r="0.65"/><circle cx="469.19" cy="172.44" r="0.65"/><circle cx="471.66" cy="166.91" r="0.65"/><circle cx="477" cy="166.48" r="0.65"/><circle cx="479.56" cy="171.32" r="0.65"/><circle cx="484.96" cy="185.89" r="0.65"/><circle cx="487.49" cy="194.66" r="0.65"/><circle cx="492.83" cy="210.63" r="0.65"/><circle cx="495.33" cy="216.97" r="0.65"/><circle cx="500.59" cy="227.7" r="0.65"/><circle cx="503.06" cy="231.54" r="0.65"/><circle cx="508.33" cy="237.74" r="0.65"/><circle cx="510.83" cy="239.79" r="0.65"/><circle cx="516.27" cy="242.92" r="0.65"/><circle cx="518.89" cy="243.84" r="0.65"/><circle cx="524.29" cy="245.36" r="0.65"/><circle cx="526.76" cy="245.87" r="0.65"/><circle cx="532.03" cy="246.4" r="0.65"/><circle cx="534.53" cy="246.4" r="0.65"/><circle cx="539.79" cy="246.4" r="0.65"/><circle cx="542.26" cy="246.4" r="0.65"/><circle cx="547.53" cy="246.47" r="0.65"/><circle cx="550.03" cy="246.53" r="0.65"/><circle cx="555.5" cy="246.65" r="0.65"/><circle cx="558.4" cy="246.7" r="0.65"/><circle cx="388" cy="247.2" r="1.75"/><circle cx="396" cy="247" r="1.75"/><circle cx="403.6" cy="247" r="1.75"/><circle cx="411.6" cy="246.3" r="1.75"/><circle cx="419.3" cy="245.8" r="1.75"/><circle cx="427.3" cy="244.6" r="1.75"/><circle cx="435" cy="242" r="1.75"/><circle cx="443" cy="237.1" r="1.75"/><circle cx="450.6" cy="227.2" r="1.75"/><circle cx="458.6" cy="208.1" r="1.75"/><circle cx="466.5" cy="178.5" r="1.75"/><circle cx="474.2" cy="161.2" r="1.75"/><circle cx="482.2" cy="176.3" r="1.75"/><circle cx="490.1" cy="203.7" r="1.75"/><circle cx="497.9" cy="223.5" r="1.75"/><circle cx="505.6" cy="235.5" r="1.75"/><circle cx="513.4" cy="241.9" r="1.75"/><circle cx="521.6" cy="244.8" r="1.75"/><circle cx="529.3" cy="246.4" r="1.75"/><circle cx="537.1" cy="246.4" r="1.75"/><circle cx="544.8" cy="246.4" r="1.75"/><circle cx="552.6" cy="246.6" r="1.75"/></g>
<g fill="#000"><circle cx="389.14" cy="333.88" r="0.65"/><circle cx="391.83" cy="332.75" r="0.65"/><circle cx="397.33" cy="330.51" r="0.65"/><circle cx="399.83" cy="329.52" r="0.65"/><circle cx="405.16" cy="329.24" r="0.65"/><circle cx="407.69" cy="329.91" r="0.65"/><circle cx="413.03" cy="330.6" r="0.65"/><circle cx="415.53" cy="330.6" r="0.65"/><circle cx="420.83" cy="329.44" r="0.65"/><circle cx="423.33" cy="328.39" r="0.65"/><circle cx="428.66" cy="325.41" r="0.65"/><circle cx="431.19" cy="323.68" r="0.65"/><circle cx="436.53" cy="319.03" r="0.65"/><circle cx="439.03" cy="316.41" r="0.65"/><circle cx="444.33" cy="309.92" r="0.65"/><circle cx="446.83" cy="306.46" r="0.65"/><circle cx="452.16" cy="298.35" r="0.65"/><circle cx="454.69" cy="294.19" r="0.65"/><circle cx="460.03" cy="284.4" r="0.65"/><circle cx="462.53" cy="279.38" r="0.65"/><circle cx="467.83" cy="270.91" r="0.65"/><circle cx="470.33" cy="267.9" r="0.65"/><circle cx="475.7" cy="264.8" r="0.65"/><circle cx="478.26" cy="264.8" r="0.65"/><circle cx="483.7" cy="268.09" r="0.65"/><circle cx="486.26" cy="271.1" r="0.65"/><circle cx="491.56" cy="279" r="0.65"/><circle cx="493.99" cy="283.38" r="0.65"/><circle cx="499.26" cy="292.8" r="0.65"/><circle cx="501.79" cy="297.28" r="0.65"/><circle cx="507.13" cy="306.34" r="0.65"/><circle cx="509.63" cy="310.41" r="0.65"/><circle cx="514.93" cy="317.65" r="0.65"/><circle cx="517.43" cy="320.43" r="0.65"/><circle cx="522.76" cy="325.44" r="0.65"/><circle cx="525.29" cy="327.39" r="0.65"/><circle cx="530.63" cy="330.62" r="0.65"/><circle cx="533.13" cy="331.75" r="0.65"/><circle cx="538.43" cy="333.67" r="0.65"/><circle cx="540.93" cy="334.37" r="0.65"/><circle cx="546.26" cy="335.66" r="0.65"/><circle cx="548.79" cy="336.17" r="0.65"/><circle cx="554" cy="336.97" r="0.65"/><circle cx="556.6" cy="337.23" r="0.65"/><circle cx="559.2" cy="337.5" r="0.65"/><circle cx="386.2" cy="335.1" r="1.75"/><circle cx="394.6" cy="331.6" r="1.75"/><circle cx="402.4" cy="328.5" r="1.75"/><circle cx="410.3" cy="330.6" r="1.75"/><circle cx="418.1" cy="330.6" r="1.75"/><circle cx="425.9" cy="327.3" r="1.75"/><circle cx="433.8" cy="321.9" r="1.75"/><circle cx="441.6" cy="313.7" r="1.75"/><circle cx="449.4" cy="302.9" r="1.75"/><circle cx="457.3" cy="289.9" r="1.75"/><circle cx="465.1" cy="274.2" r="1.75"/><circle cx="472.9" cy="264.8" r="1.75"/><circle cx="480.9" cy="264.8" r="1.75"/><circle cx="488.9" cy="274.2" r="1.75"/><circle cx="496.5" cy="287.9" r="1.75"/><circle cx="504.4" cy="301.9" r="1.75"/><circle cx="512.2" cy="314.6" r="1.75"/><circle cx="520" cy="323.3" r="1.75"/><circle cx="527.9" cy="329.4" r="1.75"/><circle cx="535.7" cy="332.9" r="1.75"/><circle cx="543.5" cy="335.1" r="1.75"/><circle cx="551.4" cy="336.7" r="1.75"/></g>
<path d="M71.0 20.0 H612.6 V364.3 H71.0 Z" fill="none" stroke="#1a1a1a" stroke-width="1.5" stroke-linejoin="round"/>
<line x1="350.4" y1="20.0" x2="350.4" y2="364.3" stroke="#1a1a1a" stroke-width="1.5"/>
<path d="M155.9 20.0 V25 M228.3 20.0 V28 M300.7 20.0 V25 M140.8 364.3 V359.3 M228.3 364.3 V356.3 M315.8 364.3 V359.3 M391.4 20.0 V25 M472.8 20.0 V28 M554.2 20.0 V25 M385.3 364.3 V359.3 M472.8 364.3 V356.3 M560.3 364.3 V359.3 M71.0 348 H83 M612.6 348 H600.6 M71.0 331.37 H77.7 M612.6 331.37 H605.9 M71.0 314.74 H77.7 M612.6 314.74 H605.9 M71.0 298.11 H77.7 M612.6 298.11 H605.9 M71.0 281.48 H77.7 M612.6 281.48 H605.9 M71.0 264.85 H83 M612.6 264.85 H605.9 M71.0 248.22 H77.7 M612.6 248.22 H600.6 M71.0 231.59 H77.7 M612.6 231.59 H605.9 M71.0 214.96 H77.7 M612.6 214.96 H605.9 M71.0 198.33 H77.7 M612.6 198.33 H605.9 M71.0 181.7 H77.7 M612.6 181.7 H605.9 M71.0 165.07 H77.7 M612.6 165.07 H600.6 M71.0 148.44 H83 M612.6 148.44 H605.9 M71.0 131.81 H77.7 M612.6 131.81 H605.9 M71.0 115.18 H77.7 M612.6 115.18 H605.9 M71.0 98.55 H77.7 M612.6 98.55 H605.9 M71.0 81.92 H77.7 M612.6 81.92 H605.9 M71.0 65.29 H83 M612.6 65.29 H605.9 M71.0 48.66 H77.7 M612.6 48.66 H605.9" fill="none" stroke="#1a1a1a" stroke-width="1.5"/>
<defs><clipPath id="c_t_m100L"><path clip-rule="evenodd" d="M-2000 -2000H3000V3000H-2000Z M142.47 7.88H146.48V12.53H142.47Z M149.06 7.88H152.93V12.53H149.06Z"/></clipPath><clipPath id="c_t_p100L"><path clip-rule="evenodd" d="M-2000 -2000H3000V3000H-2000Z M286.77 7.88H290.78V12.53H286.77Z M293.36 7.88H297.23V12.53H293.36Z"/></clipPath><clipPath id="c_t_m100R"><path clip-rule="evenodd" d="M-2000 -2000H3000V3000H-2000Z M380.97 7.88H384.98V12.53H380.97Z M387.56 7.88H391.43V12.53H387.56Z"/></clipPath><clipPath id="c_t_p100R"><path clip-rule="evenodd" d="M-2000 -2000H3000V3000H-2000Z M543.37 7.88H547.38V12.53H543.37Z M549.96 7.88H553.83V12.53H549.96Z"/></clipPath><clipPath id="c_l1A"><path clip-rule="evenodd" d="M-2000 -2000H3000V3000H-2000Z M51.71 68.23H55.79V72.60H51.71Z M58.09 68.23H62.03V72.60H58.09Z"/></clipPath><clipPath id="c_l1P"><path clip-rule="evenodd" d="M-2000 -2000H3000V3000H-2000Z M51.56 267.88H55.76V272.30H51.56Z M58.12 267.88H62.18V272.30H58.12Z"/></clipPath><clipPath id="c_r1"><path clip-rule="evenodd" d="M-2000 -2000H3000V3000H-2000Z M622.91 168.03H626.99V172.40H622.91Z M629.29 168.03H633.23V172.40H629.29Z"/></clipPath><clipPath id="c_n1"><path clip-rule="evenodd" d="M-2000 -2000H3000V3000H-2000Z M266.34 75.81H269.65V79.98H266.34Z M271.95 75.81H275.10V79.98H271.95Z"/></clipPath><clipPath id="c_n2"><path clip-rule="evenodd" d="M-2000 -2000H3000V3000H-2000Z M511.04 76.16H514.28V80.28H511.04Z M516.52 76.16H519.61V80.28H516.52Z M572.02 76.16H575.26V80.28H572.02Z M577.50 76.16H580.59V80.28H577.50Z"/></clipPath><clipPath id="c_n3"><path clip-rule="evenodd" d="M-2000 -2000H3000V3000H-2000Z M266.34 175.81H269.65V179.98H266.34Z M271.95 175.81H275.10V179.98H271.95Z"/></clipPath><clipPath id="c_n4"><path clip-rule="evenodd" d="M-2000 -2000H3000V3000H-2000Z M511.04 176.16H514.28V180.28H511.04Z M516.52 176.16H519.61V180.28H516.52Z M572.02 176.16H575.26V180.28H572.02Z M577.50 176.16H580.59V180.28H577.50Z"/></clipPath><clipPath id="c_n5"><path clip-rule="evenodd" d="M-2000 -2000H3000V3000H-2000Z M266.34 275.81H269.65V279.98H266.34Z M271.95 275.81H275.10V279.98H271.95Z M286.08 275.81H289.39V279.98H286.08Z M291.69 275.81H294.84V279.98H291.69Z"/></clipPath><clipPath id="c_n6"><path clip-rule="evenodd" d="M-2000 -2000H3000V3000H-2000Z M511.04 276.16H514.28V280.28H511.04Z M516.52 276.16H519.61V280.28H516.52Z M572.02 276.16H575.26V280.28H572.02Z M577.50 276.16H580.59V280.28H577.50Z"/></clipPath><clipPath id="c_t1238a"><path clip-rule="evenodd" d="M-2000 -2000H3000V3000H-2000Z M223.59 45.15H227.71V49.90H223.59Z M230.41 45.15H234.40V49.90H230.41Z"/></clipPath><clipPath id="c_t1393a"><path clip-rule="evenodd" d="M-2000 -2000H3000V3000H-2000Z M473.01 45.30H477.24V50.10H473.01Z M479.99 45.30H484.07V50.10H479.99Z"/></clipPath></defs>
<line x1="0.8" y1="196.3" x2="26.8" y2="212.0" stroke="#000" stroke-width="1.9" stroke-linecap="round"/>
<text x="132.55" y="10.70" font-family="Liberation Sans" font-weight="normal" font-style="normal" font-size="17.30" fill="#000" clip-path="url(#c_t_m100L)" stroke="#000" stroke-width="0.45" xml:space="preserve">−100</text>
<text x="222.06" y="10.50" font-family="Liberation Sans" font-weight="normal" font-style="normal" font-size="17.30" fill="#000"  stroke="#000" stroke-width="0.45" xml:space="preserve">0</text>
<text x="276.85" y="10.70" font-family="Liberation Sans" font-weight="normal" font-style="normal" font-size="17.30" fill="#000" clip-path="url(#c_t_p100L)" stroke="#000" stroke-width="0.45" xml:space="preserve">+100</text>
<text x="371.05" y="10.70" font-family="Liberation Sans" font-weight="normal" font-style="normal" font-size="17.30" fill="#000" clip-path="url(#c_t_m100R)" stroke="#000" stroke-width="0.45" xml:space="preserve">−100</text>
<text x="469.36" y="10.50" font-family="Liberation Sans" font-weight="normal" font-style="normal" font-size="17.30" fill="#000"  stroke="#000" stroke-width="0.45" xml:space="preserve">0</text>
<text x="533.45" y="10.70" font-family="Liberation Sans" font-weight="normal" font-style="normal" font-size="17.30" fill="#000" clip-path="url(#c_t_p100R)" stroke="#000" stroke-width="0.45" xml:space="preserve">+100</text>
<text x="51.92" y="70.90" font-family="Liberation Sans" font-weight="normal" font-style="normal" font-size="16.96" fill="#000" clip-path="url(#c_l1A)" stroke="#000" stroke-width="0.2" xml:space="preserve">1</text>
<text x="51.84" y="153.71" font-family="Liberation Sans" font-weight="normal" font-style="normal" font-size="16.83" fill="#000"  stroke="#000" stroke-width="0.45" xml:space="preserve">0</text>
<text x="51.71" y="270.60" font-family="Liberation Sans" font-weight="normal" font-style="normal" font-size="17.68" fill="#000" clip-path="url(#c_l1P)" stroke="#000" stroke-width="0.2" xml:space="preserve">1</text>
<text x="52.12" y="353.12" font-family="Liberation Sans" font-weight="normal" font-style="normal" font-size="15.99" fill="#000"  stroke="#000" stroke-width="0.45" xml:space="preserve">0</text>
<text x="623.12" y="170.70" font-family="Liberation Sans" font-weight="normal" font-style="normal" font-size="16.96" fill="#000" clip-path="url(#c_r1)" stroke="#000" stroke-width="0.2" xml:space="preserve">1</text>
<text x="623.57" y="253.22" font-family="Liberation Sans" font-weight="normal" font-style="normal" font-size="15.99" fill="#000"  stroke="#000" stroke-width="0.45" xml:space="preserve">0</text>
<text transform="translate(96.62 107.18) scale(0.867 1)" font-family="Liberation Sans" font-weight="normal" font-style="normal" font-size="27.17" fill="#000"  stroke="#000" stroke-width="0.45" xml:space="preserve">A</text>
<text transform="translate(96.49 206.97) scale(0.860 1)" font-family="Liberation Sans" font-weight="normal" font-style="normal" font-size="28.19" fill="#000"  stroke="#000" stroke-width="0.45" xml:space="preserve">B</text>
<text transform="translate(96.49 306.77) scale(0.851 1)" font-family="Liberation Sans" font-weight="normal" font-style="normal" font-size="28.48" fill="#000"  stroke="#000" stroke-width="0.45" xml:space="preserve">P</text>
<text x="267.06" y="78.38" font-family="Liberation Sans" font-weight="bold" font-style="normal" font-size="12.39" letter-spacing="0.84" fill="#000" clip-path="url(#c_n1)" xml:space="preserve">1.64 ± 0.02</text>
<text x="511.78" y="78.68" font-family="Liberation Sans" font-weight="bold" font-style="normal" font-size="11.97" letter-spacing="0.78" fill="#000" clip-path="url(#c_n2)" xml:space="preserve">1.53 ± 0.01</text>
<text x="267.06" y="178.38" font-family="Liberation Sans" font-weight="bold" font-style="normal" font-size="12.39" letter-spacing="0.84" fill="#000" clip-path="url(#c_n3)" xml:space="preserve">1.53 ± 0.02</text>
<text x="511.78" y="178.68" font-family="Liberation Sans" font-weight="bold" font-style="normal" font-size="11.97" letter-spacing="0.78" fill="#000" clip-path="url(#c_n4)" xml:space="preserve">1.37 ± 0.01</text>
<text x="267.06" y="278.38" font-family="Liberation Sans" font-weight="bold" font-style="normal" font-size="12.39" letter-spacing="0.84" fill="#000" clip-path="url(#c_n5)" xml:space="preserve">1.51 ± 0.02</text>
<text x="511.78" y="278.68" font-family="Liberation Sans" font-weight="bold" font-style="normal" font-size="11.97" letter-spacing="0.78" fill="#000" clip-path="url(#c_n6)" xml:space="preserve">1.55 ± 0.01</text>
<text transform="translate(151.02 79.12) scale(1.287 1) skewX(5)" font-family="Liberation Serif" font-weight="normal" font-style="italic" font-size="17.71" fill="#000"  stroke="#000" stroke-width="0.2" xml:space="preserve">a</text>
<text transform="translate(165.20 80.61) scale(0.987 1)" font-family="Liberation Sans" font-weight="normal" font-style="normal" font-size="20.78" fill="#000"  stroke="#000" stroke-width="0.25" xml:space="preserve">=</text>
<text transform="translate(395.30 79.12) scale(1.313 1) skewX(5)" font-family="Liberation Serif" font-weight="normal" font-style="italic" font-size="17.71" fill="#000"  stroke="#000" stroke-width="0.2" xml:space="preserve">a</text>
<text transform="translate(410.00 80.61) scale(0.987 1)" font-family="Liberation Sans" font-weight="normal" font-style="normal" font-size="20.78" fill="#000"  stroke="#000" stroke-width="0.25" xml:space="preserve">=</text>
<text transform="translate(189.87 48.00) scale(0.924 1)" font-family="Liberation Sans" font-weight="normal" font-style="normal" font-size="17.97" fill="#000"  stroke="#000" stroke-width="0.6" xml:space="preserve">N</text>
<text transform="translate(207.71 47.58) scale(0.778 1)" font-family="Liberation Serif" font-weight="normal" font-style="normal" font-size="18.36" fill="#000"  stroke="#000" stroke-width="0.7" xml:space="preserve">V</text>
<text x="223.71" y="48.05" font-family="Liberation Sans" font-weight="normal" font-style="normal" font-size="18.12" fill="#000" clip-path="url(#c_t1238a)" stroke="#000" stroke-width="0.5" xml:space="preserve">1</text>
<text transform="translate(235.02 48.07) scale(1.136 1)" font-family="Liberation Sans" font-weight="normal" font-style="normal" font-size="18.17" fill="#000"  stroke="#000" stroke-width="0.5" xml:space="preserve">238</text>
<text transform="translate(428.36 48.03) scale(1.081 1)" font-family="Liberation Sans" font-weight="normal" font-style="normal" font-size="17.30" fill="#000"  stroke="#000" stroke-width="0.6" xml:space="preserve">Si</text>
<text transform="translate(450.40 47.58) scale(0.888 1)" font-family="Liberation Serif" font-weight="normal" font-style="normal" font-size="18.36" fill="#000"  stroke="#000" stroke-width="0.7" xml:space="preserve">IV</text>
<text x="473.08" y="48.25" font-family="Liberation Sans" font-weight="normal" font-style="normal" font-size="18.70" fill="#000" clip-path="url(#c_t1393a)" stroke="#000" stroke-width="0.5" xml:space="preserve">1</text>
<text transform="translate(484.01 48.07) scale(1.157 1)" font-family="Liberation Sans" font-weight="normal" font-style="normal" font-size="18.17" fill="#000"  stroke="#000" stroke-width="0.5" xml:space="preserve">393</text>
<text transform="translate(287.67 430.77) scale(0.941 1)" font-family="Liberation Sans" font-weight="normal" font-style="normal" font-size="23.26" fill="#000"  stroke="#000" stroke-width="0.45" xml:space="preserve">Δ</text>
<text transform="translate(309.46 431.00) scale(1.173 1)" font-family="Liberation Sans" font-weight="normal" font-style="normal" font-size="22.29" fill="#000"  stroke="#000" stroke-width="0.45" xml:space="preserve">λ</text>
<text transform="translate(341.51 431.19) scale(0.961 1)" font-family="Liberation Mono" font-weight="normal" font-style="normal" font-size="28.40" fill="#000"  stroke="#000" stroke-width="0.1" xml:space="preserve">(</text>
<text transform="translate(362.09 430.70) scale(0.779 1)" font-family="Liberation Serif" font-weight="normal" font-style="normal" font-size="26.42" fill="#000"  stroke="#000" stroke-width="0.6" xml:space="preserve">Å</text>
<text transform="translate(379.89 431.19) scale(1.110 1)" font-family="Liberation Mono" font-weight="normal" font-style="normal" font-size="28.40" fill="#000"  stroke="#000" stroke-width="0.1" xml:space="preserve">)</text>
<text transform="translate(21.12 237.98) rotate(-90) scale(1.000 1)" font-family="Liberation Sans" font-weight="normal" font-style="normal" font-size="24.38" fill="#000"  stroke="#000" stroke-width="0.45" xml:space="preserve">f</text>
<text transform="translate(27.32 226.95) rotate(-90) scale(1.000 1)" font-family="Liberation Sans" font-weight="normal" font-style="normal" font-size="14.79" fill="#000"  stroke="#000" stroke-width="0.45" xml:space="preserve">λ</text>
<text transform="translate(21.32 187.51) rotate(-90) scale(1.000 1)" font-family="Liberation Sans" font-weight="normal" font-style="normal" font-size="24.24" fill="#000"  stroke="#000" stroke-width="0.45" xml:space="preserve">f</text>
<text transform="translate(28.10 177.54) rotate(-90) scale(0.801 1)" font-family="Liberation Sans" font-weight="bold" font-style="normal" font-size="16.81" fill="#000"  xml:space="preserve">MAX</text>
<text transform="translate(128.21 391.35) scale(1.154 1)" font-family="Liberation Sans" font-weight="normal" font-style="normal" font-size="17.60" fill="#000"  stroke="#000" stroke-width="0.45" xml:space="preserve">−</text>
<text x="141.05" y="390.77" font-family="Liberation Sans" font-weight="normal" font-style="normal" font-size="23.18" fill="#000"  stroke="#000" stroke-width="0.45" xml:space="preserve">.</text>
<text x="147.98" y="390.50" font-family="Liberation Sans" font-weight="normal" font-style="normal" font-size="17.36" fill="#000"  stroke="#000" stroke-width="0.45" xml:space="preserve">5</text>
<text transform="translate(302.99 391.67) scale(1.042 1)" font-family="Liberation Sans" font-weight="normal" font-style="normal" font-size="19.90" fill="#000"  stroke="#000" stroke-width="0.45" xml:space="preserve">+</text>
<text x="315.70" y="390.77" font-family="Liberation Sans" font-weight="normal" font-style="normal" font-size="23.18" fill="#000"  stroke="#000" stroke-width="0.45" xml:space="preserve">.</text>
<text x="322.38" y="390.50" font-family="Liberation Sans" font-weight="normal" font-style="normal" font-size="17.36" fill="#000"  stroke="#000" stroke-width="0.45" xml:space="preserve">5</text>
<text transform="translate(373.01 391.35) scale(1.154 1)" font-family="Liberation Sans" font-weight="normal" font-style="normal" font-size="17.60" fill="#000"  stroke="#000" stroke-width="0.45" xml:space="preserve">−</text>
<text x="385.85" y="390.77" font-family="Liberation Sans" font-weight="normal" font-style="normal" font-size="23.18" fill="#000"  stroke="#000" stroke-width="0.45" xml:space="preserve">.</text>
<text x="392.78" y="390.50" font-family="Liberation Sans" font-weight="normal" font-style="normal" font-size="17.36" fill="#000"  stroke="#000" stroke-width="0.45" xml:space="preserve">5</text>
<text transform="translate(547.79 391.67) scale(1.042 1)" font-family="Liberation Sans" font-weight="normal" font-style="normal" font-size="19.90" fill="#000"  stroke="#000" stroke-width="0.45" xml:space="preserve">+</text>
<text x="560.50" y="390.77" font-family="Liberation Sans" font-weight="normal" font-style="normal" font-size="23.18" fill="#000"  stroke="#000" stroke-width="0.45" xml:space="preserve">.</text>
<text x="567.18" y="390.50" font-family="Liberation Sans" font-weight="normal" font-style="normal" font-size="17.36" fill="#000"  stroke="#000" stroke-width="0.45" xml:space="preserve">5</text>
<text transform="translate(224.31 390.20) scale(1.041 1)" font-family="Liberation Sans" font-weight="normal" font-style="normal" font-size="17.11" fill="#000"  stroke="#000" stroke-width="0.45" xml:space="preserve">0</text>
<text transform="translate(469.03 390.41) scale(1.025 1)" font-family="Liberation Sans" font-weight="normal" font-style="normal" font-size="16.97" fill="#000"  stroke="#000" stroke-width="0.45" xml:space="preserve">0</text>
<circle cx="368.9" cy="411.5" r="2.55" fill="#fff" stroke="#000" stroke-width="1.25"/>
</svg></div>
</body></html>
